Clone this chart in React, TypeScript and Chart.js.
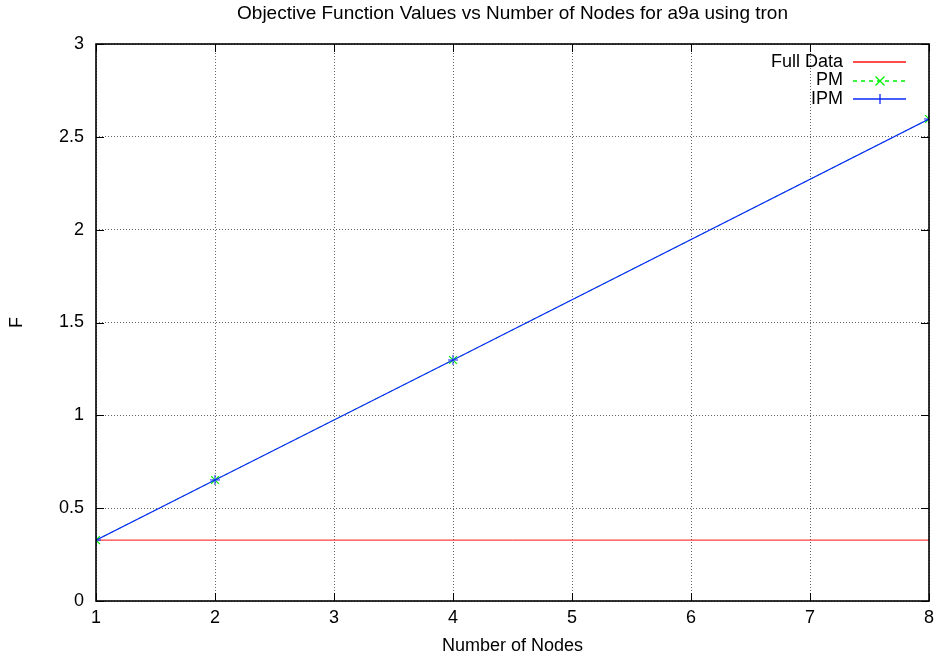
import React, { useEffect, useRef } from "react";
import { Chart, registerables } from "chart.js";

Chart.register(...registerables);

const nodes = [1, 2, 4, 8];
const fullDataValue = 0.328;
const pmValues = [0.328, 0.652, 1.298, 2.596];
const ipmValues = [0.328, 0.652, 1.298, 2.596];
const seriesNames = ["Full Data", "PM", "IPM"];
const titleText = "Objective Function Values vs Number of Nodes for a9a using tron";
const xLabel = "Number of Nodes";
const yLabel = "F";

const FONT = "Liberation Sans, Arial, Helvetica, sans-serif";
const FS = 18;
const RED = "#ff1010";
const GREEN = "#00ee00";
const BLUE = "#0a28ff";

const decorPlugin = {
  id: "gnuplotDecor",
  afterDraw(chart: any) {
    const ctx = chart.ctx;
    const a = chart.chartArea;
    const xs = chart.scales.x;
    const ys = chart.scales.y;
    ctx.save();
    // border
    ctx.strokeStyle = "#000";
    ctx.lineWidth = 1.6;
    ctx.strokeRect(a.left, a.top, a.right - a.left, a.bottom - a.top);
    // inward ticks
    ctx.lineWidth = 1;
    ctx.beginPath();
    xs.ticks.forEach((t: any) => {
      const px = Math.round(xs.getPixelForValue(t.value)) + 0.5;
      ctx.moveTo(px, a.bottom);
      ctx.lineTo(px, a.bottom - 8);
      ctx.moveTo(px, a.top);
      ctx.lineTo(px, a.top + 8);
    });
    ys.ticks.forEach((t: any) => {
      const py = Math.round(ys.getPixelForValue(t.value)) + 0.5;
      ctx.moveTo(a.left, py);
      ctx.lineTo(a.left + 8, py);
      ctx.moveTo(a.right, py);
      ctx.lineTo(a.right - 8, py);
    });
    ctx.stroke();
    // title
    ctx.fillStyle = "#000";
    ctx.font = `19px ${FONT}`;
    ctx.textAlign = "center";
    ctx.textBaseline = "middle";
    ctx.fillText(titleText, (a.left + a.right) / 2, 14);
    // x label
    ctx.font = `${FS}px ${FONT}`;
    ctx.fillText(xLabel, (a.left + a.right) / 2, 646);
    // y label
    ctx.save();
    ctx.translate(17, (a.top + a.bottom) / 2);
    ctx.rotate(-Math.PI / 2);
    ctx.fillText(yLabel, 0, 0);
    ctx.restore();
    // legend
    const rows = [
      { name: seriesNames[0], color: RED, dash: [], marker: "" },
      { name: seriesNames[1], color: GREEN, dash: [4, 4], marker: "x" },
      { name: seriesNames[2], color: BLUE, dash: [], marker: "+" },
    ];
    ctx.textAlign = "right";
    rows.forEach((r, i) => {
      const y = 62 + i * 18.5;
      ctx.fillStyle = "#000";
      ctx.fillText(r.name, 843, y);
      ctx.strokeStyle = r.color;
      ctx.lineWidth = 1.3;
      ctx.setLineDash(r.dash);
      ctx.beginPath();
      ctx.moveTo(853, Math.round(y));
      ctx.lineTo(906, Math.round(y));
      ctx.stroke();
      ctx.setLineDash([]);
      const cx = 880;
      const cy = Math.round(y);
      ctx.beginPath();
      if (r.marker === "x") {
        ctx.moveTo(cx - 4.5, cy - 4.5);
        ctx.lineTo(cx + 4.5, cy + 4.5);
        ctx.moveTo(cx - 4.5, cy + 4.5);
        ctx.lineTo(cx + 4.5, cy - 4.5);
      } else if (r.marker === "+") {
        ctx.moveTo(cx, cy - 5);
        ctx.lineTo(cx, cy + 5);
      }
      ctx.stroke();
    });
    ctx.restore();
  },
};

export default function App() {
  const ref = useRef<HTMLCanvasElement | null>(null);
  useEffect(() => {
    if (!ref.current) return;
    const chart = new Chart(ref.current, {
      type: "line",
      data: {
        datasets: [
          {
            label: seriesNames[2],
            data: nodes.map((n, i) => ({ x: n, y: ipmValues[i] })),
            borderColor: BLUE,
            backgroundColor: BLUE,
            borderWidth: 1.2,
            pointStyle: "cross",
            pointRadius: 5,
            pointBorderWidth: 1,
            order: 0,
          },
          {
            label: seriesNames[1],
            data: nodes.map((n, i) => ({ x: n, y: pmValues[i] })),
            borderColor: GREEN,
            backgroundColor: GREEN,
            borderWidth: 1,
            borderDash: [4, 4],
            pointStyle: "crossRot",
            pointRadius: 5.5,
            pointBorderWidth: 1.2,
            order: 1,
          },
          {
            label: seriesNames[0],
            data: [
              { x: nodes[0], y: fullDataValue },
              { x: nodes[nodes.length - 1], y: fullDataValue },
            ],
            borderColor: RED,
            backgroundColor: RED,
            borderWidth: 1,
            pointRadius: 0,
            order: 2,
          },
        ],
      },
      options: {
        animation: false,
        responsive: false,
        maintainAspectRatio: false,
        layout: { padding: { top: 44, right: 12, bottom: 0, left: 0 } },
        plugins: { legend: { display: false }, title: { display: false }, tooltip: { enabled: false } },
        scales: {
          x: {
            type: "linear",
            min: 1,
            max: 8,
            ticks: { stepSize: 1, color: "#000", font: { family: FONT, size: FS }, padding: 6 },
            grid: { color: "#666", drawTicks: false, tickLength: 0 },
            border: { display: false, dash: [1, 2] },
            afterFit: (s: any) => {
              s.height = 62;
            },
          },
          y: {
            type: "linear",
            min: 0,
            max: 3,
            ticks: {
              stepSize: 0.5,
              color: "#000",
              font: { family: FONT, size: FS },
              padding: 12,
              callback: (v: any) => String(Number(v)),
            },
            grid: { color: "#666", drawTicks: false, tickLength: 0 },
            border: { display: false, dash: [1, 2] },
            afterFit: (s: any) => {
              s.width = 96;
            },
          },
        },
      },
      plugins: [decorPlugin],
    });
    return () => chart.destroy();
  }, []);
  return (
    <div style={{ position: "absolute", left: 0, top: 0, width: 941, height: 663, background: "#fff" }}>
      <canvas ref={ref} width={941} height={663} />
    </div>
  );
}
